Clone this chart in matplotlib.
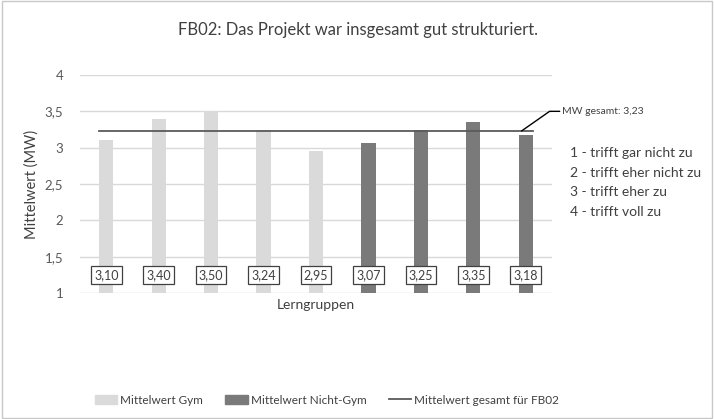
import matplotlib.pyplot as plt
from matplotlib.patches import Rectangle
from matplotlib.lines import Line2D

plt.rcParams["font.family"] = ["Lato", "DejaVu Sans"]

# data
gym_values = [3.10, 3.40, 3.50, 3.24, 2.95]
nongym_values = [3.07, 3.25, 3.35, 3.18]
mw_total = 3.23
y_ticks = [1, 1.5, 2, 2.5, 3, 3.5, 4]
y_ticklabels = ["1", "1,5", "2", "2,5", "3", "3,5", "4"]
scale_notes = ["1 - trifft gar nicht zu", "2 - trifft eher nicht zu",
               "3 - trifft eher zu", "4 - trifft voll zu"]

LIGHT = "#dadada"
DARK = "#7a7a7a"
LINE = "#5a5a5a"
TXT = "#595959"

fig = plt.figure(figsize=(7.14, 4.19), dpi=100)
ax = fig.add_axes([80 / 714, 1 - 293 / 419, 472 / 714, 218 / 419])

n_gym = len(gym_values)
x_gym = list(range(n_gym))
x_non = [n_gym + i for i in range(len(nongym_values))]
width = 0.27
base = 1.0

ax.bar(x_gym, [v - base for v in gym_values], bottom=base, width=width,
       color=LIGHT, zorder=2, label="Mittelwert Gym")
ax.bar(x_non, [v - base for v in nongym_values], bottom=base, width=width,
       color=DARK, zorder=2, label="Mittelwert Nicht-Gym")

n_all = n_gym + len(nongym_values)
ax.plot([-width / 2, n_all - 1 + width / 2], [mw_total, mw_total], color=LINE,
        lw=1.3, zorder=3, label="Mittelwert gesamt für FB02")

# value boxes
for x, v in zip(x_gym + x_non, gym_values + nongym_values):
    ax.text(x, 1.25, f"{v:.2f}".replace(".", ","), ha="center", va="center",
            fontsize=9, color="#404040", zorder=4,
            bbox=dict(boxstyle="square,pad=0.25", fc="white", ec="#404040", lw=0.9))

ax.set_xlim(-0.5, n_all - 0.5)
ax.set_ylim(1, 4)
ax.set_yticks(y_ticks)
ax.set_yticklabels(y_ticklabels, color=TXT, fontsize=9.5)
ax.set_xticks([])
ax.tick_params(axis="y", length=0, pad=12)
ax.grid(axis="y", color="#d9d9d9", lw=1, zorder=0)
for s in ax.spines.values():
    s.set_visible(False)
ax.set_ylabel("Mittelwert (MW)", color="#404040", fontsize=10.5, labelpad=4)
ax.set_xlabel("Lerngruppen", color="#404040", fontsize=10, labelpad=4)

# annotation for the overall mean
ax.annotate("MW gesamt: 3,23", xy=(n_all - 1 - 0.08, mw_total),
            xytext=(n_all - 0.3, 3.5), fontsize=7.5, color="#404040",
            va="center", ha="left", annotation_clip=False,
            arrowprops=dict(arrowstyle="-", color="black", lw=1,
                            connectionstyle="angle,angleA=0,angleB=35,rad=0",
                            shrinkA=0, shrinkB=0))

for i, note in enumerate(scale_notes):
    fig.text(570 / 714, 1 - (153 + i * 19.7) / 419, note, fontsize=10,
             color="#404040", va="center", ha="left")

fig.text(358 / 714, 1 - 30 / 419, "FB02: Das Projekt war insgesamt gut strukturiert.",
         ha="center", va="center", fontsize=12, color="#404040")

handles = [Rectangle((0, 0), 1, 1, color=LIGHT), Rectangle((0, 0), 1, 1, color=DARK),
           Line2D([], [], color=LINE, lw=1.3)]
labels = ["Mittelwert Gym", "Mittelwert Nicht-Gym", "Mittelwert gesamt für FB02"]
fig.legend(handles, labels, loc="center", bbox_to_anchor=(327 / 714, 1 - 400 / 419),
           ncol=3, frameon=False, fontsize=8.5, handlelength=1.9, handleheight=0.8,
           columnspacing=1.9, handletextpad=0.25, labelcolor="#404040")

fig.add_artist(Rectangle((0.003, 0.003), 0.994, 0.994, transform=fig.transFigure,
                         fill=False, ec="#c8c8c8", lw=1))

fig.savefig("out.png", dpi=100)
